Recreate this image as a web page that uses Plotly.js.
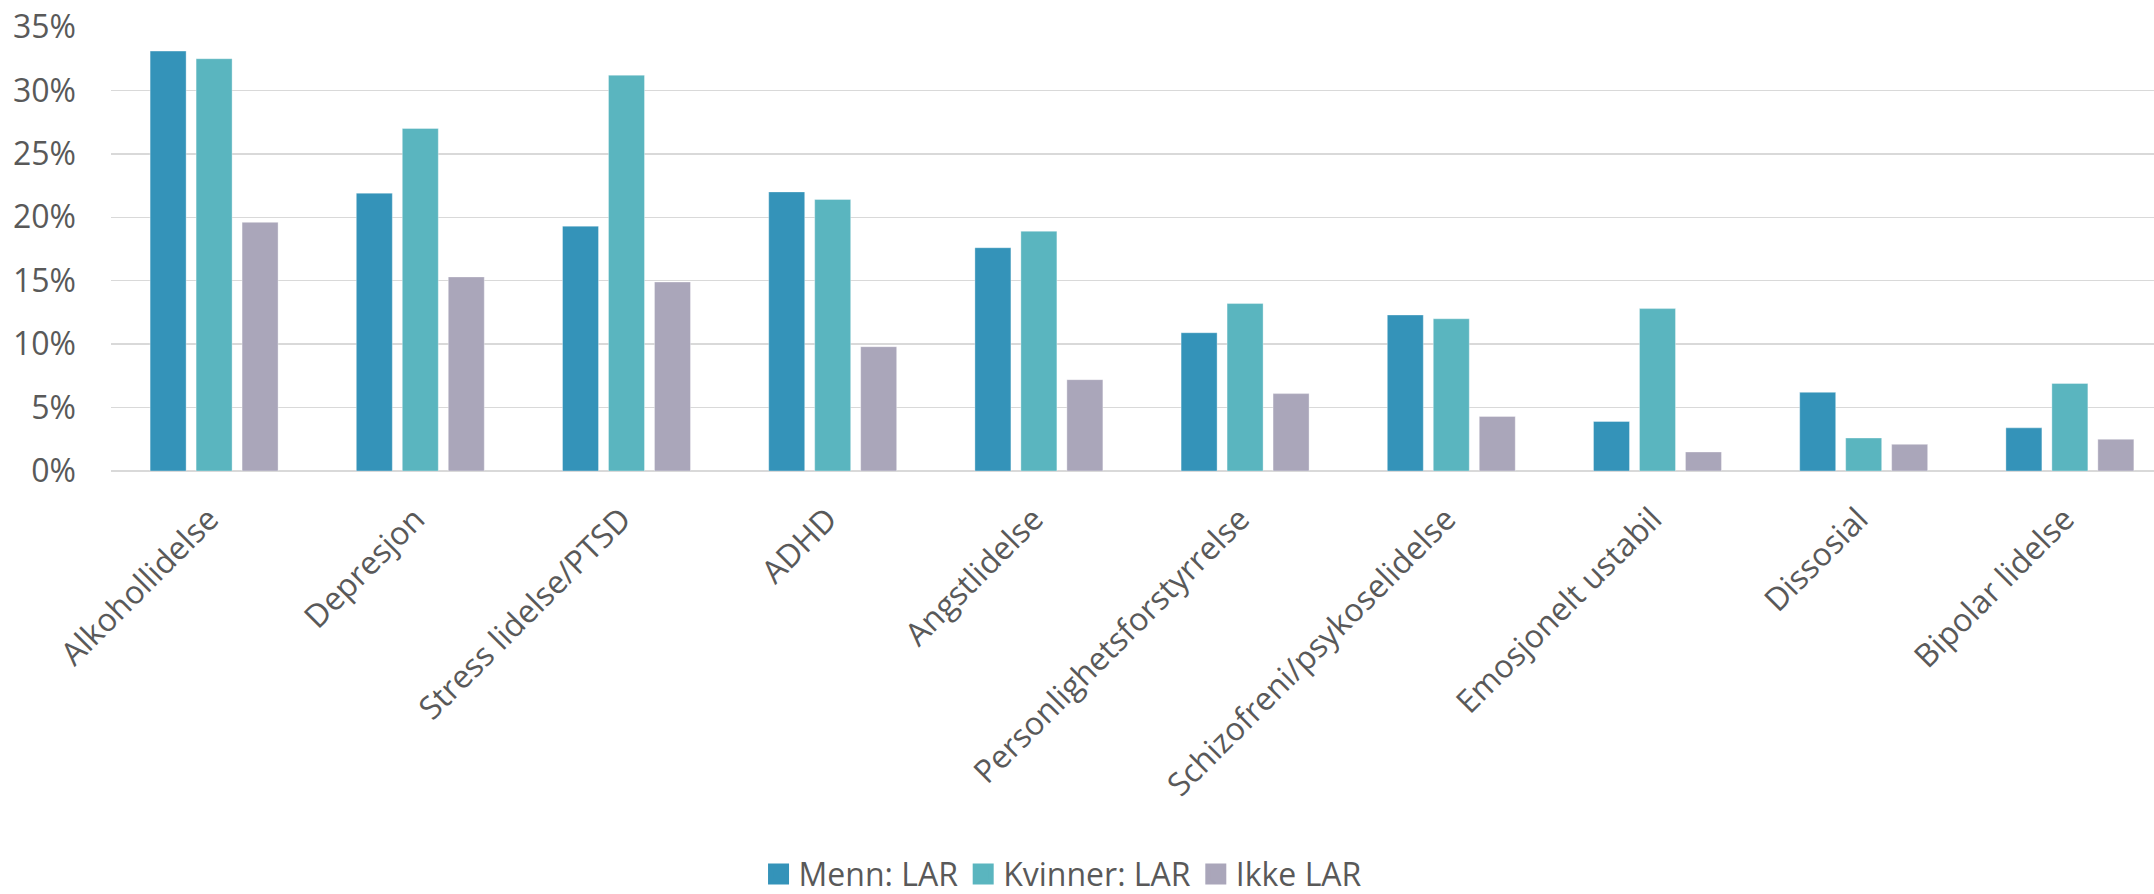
<!DOCTYPE html>
<html>
<head>
<meta charset="utf-8">
<script src="https://cdn.plot.ly/plotly-3.0.1.min.js"></script>
<style>
  html, body { margin: 0; padding: 0; background: #ffffff; }
  #chart { width: 2154px; height: 894px; }
</style>
</head>
<body>
<div id="chart"></div>
<script>
// Diagnosis categories along the x axis
const categories = [
  'Alkohollidelse', 'Depresjon', 'Stress lidelse/PTSD', 'ADHD', 'Angstlidelse',
  'Personlighetsforstyrrelse', 'Schizofreni/psykoselidelse', 'Emosjonelt ustabil',
  'Dissosial', 'Bipolar lidelse'
];

// Share of patients (%) per group
const seriesNames = ['Menn: LAR', 'Kvinner: LAR', 'Ikke LAR'];
const mennLAR    = [33.1, 21.9, 19.3, 22.0, 17.6, 10.9, 12.3, 3.9, 6.2, 3.4];
const kvinnerLAR = [32.5, 27.0, 31.2, 21.4, 18.9, 13.2, 12.0, 12.8, 2.6, 6.9];
const ikkeLAR    = [19.6, 15.3, 14.9, 9.8, 7.2, 6.1, 4.3, 1.5, 2.1, 2.5];

// y axis ticks and their labels
const yTicks = [0, 5, 10, 15, 20, 25, 30, 35];
const yTickLabels = ['0%', '5%', '10%', '15%', '20%', '25%', '30%', '35%'];

const colors = ['#3493B9', '#5AB5BF', '#AAA6BA'];
const values = [mennLAR, kvinnerLAR, ikkeLAR];

const FONT = '"Open Sans", "Noto Sans", sans-serif';
const TEXT = '#595959';

const traces = [];
values.forEach((v, i) => {
  traces.push({
    type: 'bar',
    name: seriesNames[i],
    x: categories,
    y: v,
    marker: { color: colors[i], line: { color: 'rgba(255,255,255,0.35)', width: 1 } },
    showlegend: false,
    hoverinfo: 'x+y'
  });
});
// Legend entries with larger square swatches
values.forEach((v, i) => {
  traces.push({
    type: 'scatter',
    mode: 'markers',
    name: seriesNames[i],
    x: [categories[0]],
    y: [null],
    marker: { symbol: 'square', size: 16, color: colors[i], line: { color: colors[i], width: 5 } },
    showlegend: true,
    hoverinfo: 'skip'
  });
});

const layout = {
  width: 2154,
  height: 894,
  margin: { l: 111, r: 0, t: 27, b: 423, pad: 0, autoexpand: false },
  paper_bgcolor: '#ffffff',
  plot_bgcolor: '#ffffff',
  font: { family: FONT, size: 32, color: TEXT },
  barmode: 'group',
  bargap: 0.331,
  bargroupgap: 0.217,
  xaxis: {
    type: 'category',
    range: [-0.5, 9.408],
    tickangle: -45,
    tickfont: { family: FONT, size: 32, color: TEXT },
    showgrid: false,
    showline: false,
    zeroline: false,
    ticks: '',
    ticklabelstandoff: 22,
    ticklabelshift: -5,
    automargin: false,
    fixedrange: true
  },
  yaxis: {
    range: [0, 35],
    tickmode: 'array',
    tickvals: yTicks,
    ticktext: yTickLabels,
    tickfont: { family: FONT, size: 32, color: TEXT },
    showgrid: true,
    gridcolor: '#D9D9D9',
    gridwidth: 1.5,
    zeroline: true,
    zerolinecolor: '#D9D9D9',
    zerolinewidth: 1.5,
    showline: false,
    ticks: '',
    ticklabelstandoff: 34,
    automargin: false,
    fixedrange: true
  },
  legend: {
    orientation: 'h',
    x: 0.466,
    xanchor: 'center',
    y: -0.908,
    yanchor: 'middle',
    font: { family: FONT, size: 32, color: TEXT },
    bgcolor: 'rgba(0,0,0,0)',
    itemclick: false,
    itemdoubleclick: false
  },
  showlegend: true
};

Plotly.newPlot('chart', traces, layout, { displayModeBar: false, staticPlot: true });
</script>
</body>
</html>
